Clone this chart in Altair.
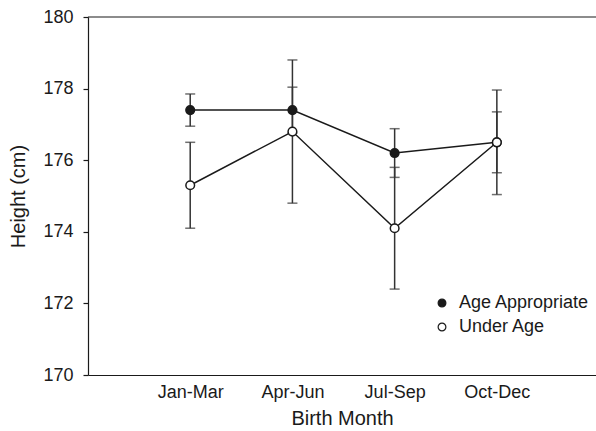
import altair as alt
import pandas as pd

months = ["Jan-Mar", "Apr-Jun", "Jul-Sep", "Oct-Dec"]
positions = [1, 2, 3, 4]
series_names = ["Age Appropriate", "Under Age"]
appropriate_mean = [177.4, 177.4, 176.2, 176.5]
appropriate_err = [0.45, 0.64, 0.68, 0.85]
under_mean = [175.3, 176.8, 174.1, 176.5]
under_err = [1.2, 2.0, 1.7, 1.46]

rows = []
for name, means, errs in [(series_names[0], appropriate_mean, appropriate_err),
                          (series_names[1], under_mean, under_err)]:
    for p, m, mean, err in zip(positions, months, means, errs):
        rows.append({"pos": p, "month": m, "series": name, "mean": mean,
                     "lo": mean - err, "hi": mean + err})
df = pd.DataFrame(rows)

W, H = 508, 358
INK = "#1a1a1a"
FONT = "Liberation Sans"

label_expr = ("datum.value == 1 ? 'Jan-Mar' : datum.value == 2 ? 'Apr-Jun' : "
              "datum.value == 3 ? 'Jul-Sep' : datum.value == 4 ? 'Oct-Dec' : ''")

x = alt.X("pos:Q", scale=alt.Scale(domain=[0, 4.97], nice=False, zero=False),
          axis=alt.Axis(values=positions, labelExpr=label_expr, ticks=False, grid=False,
                        title="Birth Month", labelPadding=8, titlePadding=7,
                        domainColor=INK, domainWidth=1.2))
y_scale = alt.Scale(domain=[170, 180], nice=False, zero=False)
y = alt.Y("mean:Q", scale=y_scale,
          axis=alt.Axis(values=[170, 172, 174, 176, 178, 180], grid=False, tickSize=5,
                        title="Height (cm)", labelPadding=10, titlePadding=14,
                        domainColor=INK, tickColor=INK, domainWidth=1.2, tickWidth=1.2))

base = alt.Chart(df)

bars = base.mark_rule(color="#333333", strokeWidth=1.5).encode(
    x=x, y=alt.Y("lo:Q", scale=y_scale), y2="hi:Q")
caps_hi = base.mark_tick(color="#333333", thickness=1.5, size=10, orient="horizontal").encode(
    x=x, y=alt.Y("hi:Q", scale=y_scale))
caps_lo = base.mark_tick(color="#333333", thickness=1.5, size=10, orient="horizontal").encode(
    x=x, y=alt.Y("lo:Q", scale=y_scale))

lines = base.mark_line(color=INK, strokeWidth=1.5).encode(
    x=x, y=y, detail="series:N")

points = base.mark_point(filled=False, shape="circle", size=75, stroke=INK,
                         strokeWidth=1.5, opacity=1).encode(
    x=x, y=y,
    fill=alt.Fill("series:N", scale=alt.Scale(domain=series_names, range=[INK, "white"]),
                  legend=alt.Legend(title=None, orient="none", legendX=345, legendY=277,
                                    symbolType="circle", symbolSize=60,
                                    symbolStrokeColor=INK, symbolStrokeWidth=1.2,
                                    labelFontSize=18, labelFont=FONT, labelColor=INK,
                                    rowPadding=6, labelOffset=8)),
    order=alt.Order("series:N", sort="ascending"))

top_line = alt.Chart(pd.DataFrame({"v": [0]})).mark_rule(color=INK, strokeWidth=1.2).encode(
    x=alt.value(0), x2=alt.value(W), y=alt.value(0))

chart = alt.layer(bars, caps_hi, caps_lo, lines, points, top_line).properties(
    width=W, height=H,
    autosize=alt.AutoSizeParams(type="none"),
    padding={"left": 88, "top": 17, "right": 0, "bottom": 56},
).configure_view(stroke=None).configure_axis(
    labelFont=FONT, titleFont=FONT, labelFontSize=18, titleFontSize=20,
    labelColor=INK, titleColor=INK, titleFontWeight="normal"
)

chart.save("out.html", embed_options={"renderer": "svg", "actions": False})
